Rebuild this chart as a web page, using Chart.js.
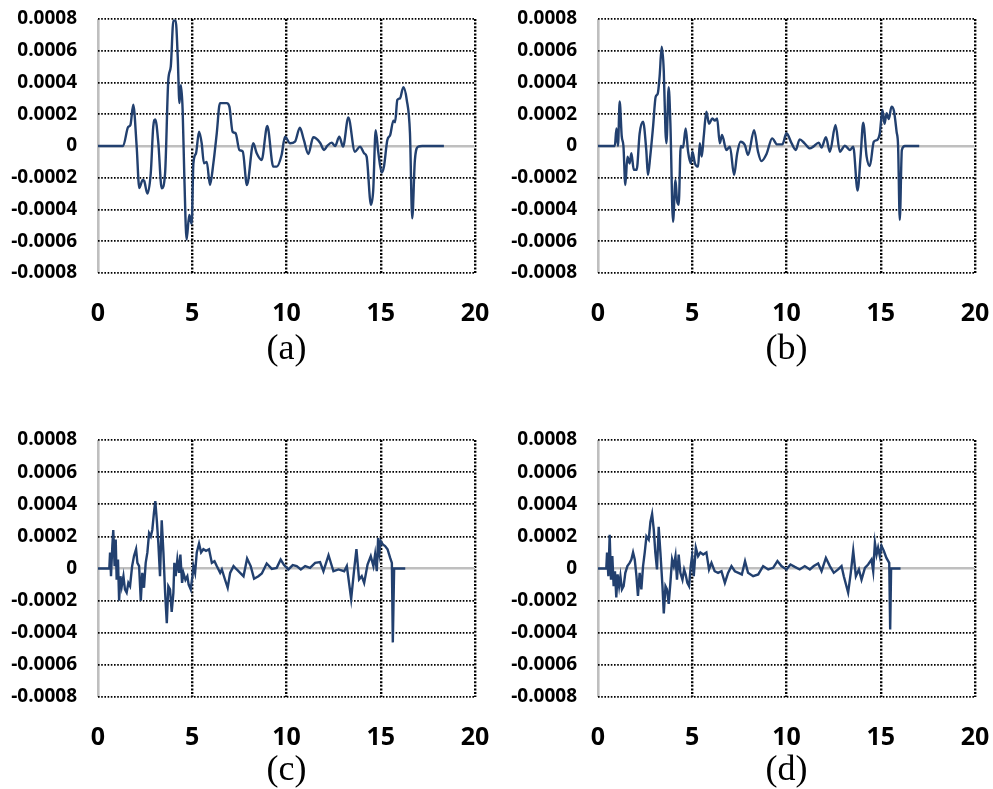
<!DOCTYPE html>
<html>
<head>
<meta charset="utf-8">
<script src="https://cdn.jsdelivr.net/npm/chart.js@4.4.1/dist/chart.umd.min.js"></script>
<style>
  body { margin: 0; background: #fff; }
  #wrap { position: relative; width: 993px; height: 789px; overflow: hidden; }
  canvas { position: absolute; }
</style>
</head>
<body>
<div id="wrap">
  <canvas id="chartA" width="493" height="368" style="left:0;top:0"></canvas>
  <canvas id="chartB" width="493" height="368" style="left:500px;top:0"></canvas>
  <canvas id="chartC" width="493" height="368" style="left:0;top:421px"></canvas>
  <canvas id="chartD" width="493" height="368" style="left:500px;top:421px"></canvas>
</div>
<script>
// tick values shared by all four panels
const xTicks = [0, 5, 10, 15, 20];
const yTicks = [-0.0008, -0.0006, -0.0004, -0.0002, 0, 0.0002, 0.0004, 0.0006, 0.0008];

// (a)
const xA = [0, 1.33, 1.6, 1.72, 1.87, 2.05, 2.19, 2.37, 2.45, 2.62, 2.8, 2.93, 3.04, 3.2, 3.38, 3.56, 3.73, 3.86, 4.0, 4.12,
  4.23, 4.32, 4.4, 4.49, 4.58, 4.7, 4.84, 4.97, 5.06, 5.2, 5.36, 5.5, 5.62, 5.77, 5.94, 6.12, 6.3, 6.47, 6.83, 6.97,
  7.14, 7.3, 7.5, 7.68, 7.9, 8.24, 8.42, 8.68, 8.98, 9.3, 9.48, 9.74, 9.92, 10.19, 10.45, 10.71, 10.92, 11.16, 11.42, 11.78,
  11.99, 12.17, 12.4, 12.58, 12.8, 13.0, 13.28, 13.63, 13.9, 14.12, 14.25, 14.48, 14.6, 14.73, 14.87, 15.05, 15.17, 15.35, 15.5, 15.67,
  15.76, 15.88, 16.02, 16.2, 16.38, 16.55, 16.67, 16.81, 16.99, 17.2, 18.35];
const yA = [0, 0, 1.2e-4, 1.32e-4, 2.6e-4, 0, -2.65e-4, -2.14e-4, -2.2e-4, -3.0e-4, -1.7e-4, 1.2e-4, 1.68e-4, 0.2e-4, -2.67e-4, -1.7e-4, 4.16e-4, 5.0e-4, 7.9e-4, 7.9e-4,
  5.6e-4, 2.7e-4, 3.84e-4, 2.27e-4, -1.93e-4, -5.9e-4, -4.35e-4, -4.9e-4, -1.09e-4, -0.46e-4, 0.9e-4, 0.17e-4, -1.09e-4, -1.0e-4, -2.46e-4, -1.09e-4, 0.8e-4, 2.7e-4, 2.7e-4, 2.48e-4,
  0.9e-4, 0.8e-4, -0.25e-4, -0.35e-4, -2.46e-4, 0.17e-4, -0.46e-4, -0.88e-4, 1.26e-4, -1.3e-4, -1.3e-4, -0.57e-4, 0.59e-4, 0.17e-4, 0.27e-4, 1.15e-4, 0.38e-4, -0.5e-4, 0.55e-4, 0.21e-4,
  -0.25e-4, 0.02e-4, 0.21e-4, 0, 0.59e-4, -0.04e-4, 1.8e-4, -0.36e-4, -0.04e-4, -0.46e-4, -0.67e-4, -3.7e-4, -2.8e-4, 1.0e-4, -0.4e-4, -1.68e-4, -1.3e-4, 0.38e-4, 0.69e-4, 1.6e-4,
  1.5e-4, 2.9e-4, 3.0e-4, 3.7e-4, 2.9e-4, 0.8e-4, -4.56e-4, -0.9e-4, -0.04e-4, 0, 0];

// (b)
const xB = [0, 0.89, 0.98, 1.06, 1.15, 1.26, 1.35, 1.45, 1.56, 1.68, 1.77, 1.9, 2.05, 2.21, 2.39, 2.56, 2.65, 2.77, 2.92, 3.06,
  3.17, 3.27, 3.38, 3.49, 3.58, 3.63, 3.75, 3.84, 3.98, 4.11, 4.19, 4.28, 4.39, 4.51, 4.65, 4.78, 4.92, 5.01, 5.14, 5.31,
  5.4, 5.5, 5.61, 5.75, 5.89, 6.07, 6.2, 6.32, 6.46, 6.58, 6.81, 7.0, 7.22, 7.38, 7.56, 7.79, 7.96, 8.28, 8.49, 8.67,
  8.94, 9.24, 9.5, 9.78, 10.0, 10.26, 10.49, 10.7, 10.96, 11.24, 11.42, 11.71, 11.86, 12.09, 12.3, 12.6, 12.83, 13.1, 13.36, 13.54,
  13.77, 13.93, 14.07, 14.25, 14.42, 14.63, 14.81, 14.95, 15.09, 15.2, 15.31, 15.43, 15.57, 15.7, 15.84, 15.92, 16.01, 16.12, 16.28, 17.04];
const yB = [0, 0, 1.1e-4, 0, 2.8e-4, 0.6e-4, 0, -2.46e-4, -0.67e-4, -1.1e-4, -0.46e-4, -1.5e-4, -1.5e-4, 0.8e-4, 1.53e-4, -0.25e-4, -1.83e-4, -0.67e-4, 1.2e-4, 3.1e-4,
  3.3e-4, 4.4e-4, 6.25e-4, 4.7e-4, 0.9e-4, 0.17e-4, 3.7e-4, 1.43e-4, -4.77e-4, -2.14e-4, -3.4e-4, -3.7e-4, 0, -0.1e-4, 1.1e-4, -0.36e-4, -1.09e-4, -0.36e-4, -1.09e-4, -1.3e-4,
  0.17e-4, -0.67e-4, 0.6e-4, 2.16e-4, 1.4e-4, 1.74e-4, 1.6e-4, 1.74e-4, 0.17e-4, 0.7e-4, -0.25e-4, -0.04e-4, -1.83e-4, -0.5e-4, 0.27e-4, 0.06e-4, -0.57e-4, 1.0e-4, -0.36e-4, -0.95e-4,
  -0.5e-4, 0.48e-4, 0.1e-4, 0.1e-4, 0.8e-4, 0.2e-4, -0.25e-4, 0.42e-4, 0.17e-4, -0.15e-4, -0.04e-4, 0.21e-4, -0.1e-4, 0.55e-4, -0.36e-4, 1.32e-4, -0.36e-4, 0.02e-4, -0.25e-4, -0.04e-4,
  -2.8e-4, -0.67e-4, 1.47e-4, -0.67e-4, -1.26e-4, 0.27e-4, 0.38e-4, 0.8e-4, 2.27e-4, 1.4e-4, 2.06e-4, 1.7e-4, 2.48e-4, 2.2e-4, 0.9e-4, 0, -4.66e-4, -0.25e-4, 0, 0];

// (c)
const xC = [0, 0.6, 0.64, 0.69, 0.76, 0.81, 0.88, 0.94, 0.99, 1.06, 1.12, 1.19, 1.26, 1.35, 1.43, 1.52, 1.61, 1.7, 1.81, 1.91,
  2.02, 2.09, 2.18, 2.27, 2.35, 2.44, 2.53, 2.62, 2.71, 2.8, 2.88, 2.97, 3.04, 3.12, 3.2, 3.29, 3.38, 3.47, 3.56, 3.65,
  3.73, 3.82, 3.91, 4.0, 4.05, 4.12, 4.21, 4.3, 4.37, 4.46, 4.53, 4.64, 4.74, 4.81, 4.92, 5.01, 5.06, 5.15, 5.24, 5.36,
  5.47, 5.59, 5.73, 5.89, 6.04, 6.18, 6.3, 6.48, 6.57, 6.74, 6.88, 7.01, 7.19, 7.36, 7.54, 7.72, 7.91, 8.1, 8.28, 8.51,
  8.69, 8.95, 9.22, 9.48, 9.69, 9.87, 10.1, 10.33, 10.54, 10.76, 10.99, 11.25, 11.52, 11.78, 11.96, 12.23, 12.49, 12.76, 13.06, 13.2,
  13.43, 13.59, 13.71, 13.85, 13.99, 14.12, 14.3, 14.47, 14.61, 14.7, 14.79, 14.86, 14.93, 15.0, 15.11, 15.23, 15.36, 15.5, 15.59, 15.64,
  15.71, 16.3];
const yC = [0, 0, 1.0e-4, -0.48e-4, 1.4e-4, 2.4e-4, 0.15e-4, 1.8e-4, -0.7e-4, 0.56e-4, -2.0e-4, -0.48e-4, -1.1e-4, -0.48e-4, -1.3e-4, -1.5e-4, -0.9e-4, -1.1e-4, 0.15e-4, 0.77e-4,
  1.2e-4, 0.35e-4, 0.15e-4, -2.0e-4, -0.27e-4, -1.2e-4, 0.35e-4, 1.0e-4, 2.2e-4, 2.0e-4, 2.4e-4, 3.5e-4, 4.2e-4, 3.0e-4, 1.6e-4, -0.48e-4, 3.0e-4, 1.0e-4, -1.5e-4, -3.4e-4,
  -1.1e-4, -1.3e-4, -2.7e-4, -1.5e-4, 0.35e-4, -0.48e-4, 0.56e-4, -0.27e-4, 0.87e-4, -0.9e-4, -0.27e-4, -0.7e-4, -0.48e-4, -1.0e-4, -1.3e-4, -0.48e-4, 0.15e-4, -0.27e-4, 1.0e-4, 1.55e-4,
  1.0e-4, 1.2e-4, 1.1e-4, 1.2e-4, 0.35e-4, 0.45e-4, 0.15e-4, -0.27e-4, -0.06e-4, -0.7e-4, -1.2e-4, -0.27e-4, 0.15e-4, -0.06e-4, -0.27e-4, -0.48e-4, 0.62e-4, 0.15e-4, -0.64e-4, -0.48e-4,
  -0.31e-4, 0.31e-4, -0.02e-4, 0.04e-4, 0.56e-4, 0.21e-4, -0.06e-4, 0.21e-4, 0.15e-4, -0.06e-4, 0.15e-4, 0.04e-4, 0.35e-4, 0.4e-4, -0.17e-4, 0.83e-4, -0.17e-4, -0.06e-4, -0.17e-4, 0.15e-4,
  -1.9e-4, -0.06e-4, 1.2e-4, -0.68e-4, -0.48e-4, -0.9e-4, 0.25e-4, 0.77e-4, 0.15e-4, 0.87e-4, -0.17e-4, 1.9e-4, 1.0e-4, 1.7e-4, 1.5e-4, 1.4e-4, 1.2e-4, 0.66e-4, 0.35e-4, -4.6e-4,
  0, 0];

// (d)
const xD = [0, 0.44, 0.48, 0.55, 0.62, 0.69, 0.76, 0.83, 0.9, 0.97, 1.04, 1.12, 1.19, 1.27, 1.36, 1.45, 1.56, 1.68, 1.77, 1.86,
  1.95, 2.04, 2.12, 2.21, 2.3, 2.39, 2.48, 2.57, 2.69, 2.78, 2.87, 2.96, 3.04, 3.13, 3.22, 3.31, 3.42, 3.49, 3.58, 3.66,
  3.75, 3.84, 3.93, 4.02, 4.11, 4.19, 4.28, 4.37, 4.48, 4.57, 4.65, 4.74, 4.83, 4.92, 4.99, 5.08, 5.19, 5.31, 5.43, 5.58,
  5.75, 5.89, 6.02, 6.19, 6.37, 6.55, 6.73, 6.9, 7.08, 7.26, 7.45, 7.63, 7.8, 7.96, 8.23, 8.5, 8.76, 9.03, 9.29, 9.52,
  9.73, 10.0, 10.21, 10.44, 10.7, 10.97, 11.24, 11.45, 11.68, 11.86, 12.09, 12.3, 12.51, 12.74, 12.92, 13.04, 13.27, 13.41, 13.54, 13.68,
  13.84, 13.98, 14.16, 14.33, 14.51, 14.6, 14.69, 14.78, 14.86, 14.95, 15.04, 15.16, 15.3, 15.45, 15.5, 15.55, 16.05];
const yD = [0, 0, 1.0e-4, -0.48e-4, 2.1e-4, -0.7e-4, 0.77e-4, -1.1e-4, -0.17e-4, -1.8e-4, -0.37e-4, -1.1e-4, -0.48e-4, -1.3e-4, -1.1e-4, -0.27e-4, 0.15e-4, 0.35e-4, 0.56e-4, 1.0e-4,
  0.56e-4, -0.48e-4, -1.7e-4, -0.27e-4, -1.3e-4, 0.15e-4, 1.0e-4, 2.0e-4, 1.8e-4, 2.9e-4, 3.4e-4, 2.4e-4, 1.0e-4, -0.06e-4, 2.6e-4, 1.0e-4, -1.1e-4, -2.8e-4, -1.1e-4, -1.3e-4,
  -2.2e-4, -0.9e-4, 0.56e-4, 0.15e-4, 0.77e-4, -0.7e-4, 0.87e-4, -0.27e-4, -0.7e-4, -0.06e-4, -0.37e-4, -0.9e-4, -1.1e-4, 0.15e-4, 0.77e-4, -0.48e-4, 1.3e-4, 0.77e-4, 1.0e-4, 0.87e-4,
  1.0e-4, -0.06e-4, 0.35e-4, -0.17e-4, -0.27e-4, -0.17e-4, -0.9e-4, -0.27e-4, 0.15e-4, -0.17e-4, -0.27e-4, -0.37e-4, 0.46e-4, -0.27e-4, -0.48e-4, -0.37e-4, 0.15e-4, -0.06e-4, 0.04e-4, 0.46e-4,
  0.15e-4, -0.06e-4, 0.25e-4, 0.1e-4, -0.06e-4, 0.15e-4, -0.06e-4, 0.15e-4, 0.31e-4, -0.17e-4, 0.66e-4, 0.15e-4, -0.27e-4, -0.06e-4, 0.15e-4, -0.48e-4, -1.5e-4, -0.27e-4, 1.1e-4, -0.48e-4,
  -0.06e-4, -0.7e-4, 0.04e-4, 0.25e-4, 0.56e-4, -0.17e-4, 1.6e-4, 0.87e-4, 1.3e-4, 0.77e-4, 1.4e-4, 1.1e-4, 0.66e-4, 0.35e-4, -3.8e-4, 0, 0];

const LINE_COLOR = '#22406f';
const AXIS_GRAY = '#bfbfbf';

function isZero(v) {
  return Math.abs(v) < 1e-9;
}

function makeChart(id, xs, ys, caption, plotBottom, smooth) {
  const ctx = document.getElementById(id).getContext('2d');
  const points = xs.map((x, i) => ({ x: x, y: ys[i] }));
  return new Chart(ctx, {
    type: 'line',
    data: {
      datasets: [{
        data: points,
        borderColor: LINE_COLOR,
        borderWidth: 2.4,
        pointRadius: 0,
        fill: false,
        tension: smooth ? 0.4 : 0,
        cubicInterpolationMode: smooth ? 'monotone' : 'default'
      }]
    },
    options: {
      responsive: false,
      animation: false,
      events: [],
      layout: { padding: { top: 19, right: 18, left: 0, bottom: 0 } },
      plugins: {
        legend: { display: false },
        tooltip: { enabled: false }
      },
      scales: {
        x: {
          type: 'linear',
          min: 0,
          max: 20,
          afterBuildTicks: (axis) => { axis.ticks = xTicks.map(v => ({ value: v })); },
          afterFit: (axis) => {
            // fixed axis height, and no extra room for the end labels
            axis.height = 368 - plotBottom;
            axis.paddingLeft = 0;
            axis.paddingRight = 0;
          },
          ticks: {
            padding: 26,
            maxRotation: 0,
            autoSkip: false,
            color: '#000',
            font: { family: 'Open Sans', size: 25, weight: 'bold' }
          },
          grid: {
            drawTicks: false,
            color: (c) => isZero(c.tick.value) ? AXIS_GRAY : '#000',
            lineWidth: (c) => isZero(c.tick.value) ? 2.6 : 2.4
          },
          border: {
            display: false,
            dash: (c) => isZero(c.tick.value) ? [] : [2, 1.6]
          },
          title: {
            display: true,
            text: caption,
            color: '#000',
            padding: { top: 0, bottom: -3 },
            font: { family: 'Liberation Serif', size: 36, weight: 'normal' }
          }
        },
        y: {
          min: -0.0008,
          max: 0.0008,
          afterBuildTicks: (axis) => { axis.ticks = yTicks.map(v => ({ value: v })); },
          afterFit: (axis) => {
            axis.width = 98;
            axis.paddingTop = 0;
            axis.paddingBottom = 0;
          },
          ticks: {
            padding: 21,
            autoSkip: false,
            color: '#000',
            font: { family: 'Open Sans', size: 19, weight: 'bold' },
            callback: (v) => isZero(v) ? '0' : v.toFixed(4)
          },
          grid: {
            drawTicks: false,
            color: (c) => isZero(c.tick.value) ? AXIS_GRAY : '#000',
            lineWidth: (c) => isZero(c.tick.value) ? 2.6 : 1.7
          },
          border: {
            display: false,
            dash: (c) => isZero(c.tick.value) ? [] : [1.6, 1.6]
          }
        }
      }
    }
  });
}

makeChart('chartA', xA, yA, '(a)', 273, true);
makeChart('chartB', xB, yB, '(b)', 273, true);
makeChart('chartC', xC, yC, '(c)', 276, false);
makeChart('chartD', xD, yD, '(d)', 276, false);
</script>
</body>
</html>
